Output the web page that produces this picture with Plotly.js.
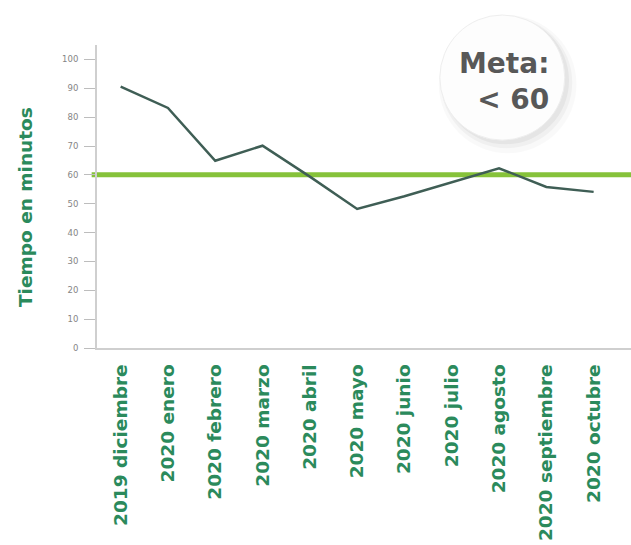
<!DOCTYPE html>
<html>
<head>
<meta charset="utf-8">
<script src="https://cdn.plot.ly/plotly-3.0.1.min.js"></script>
<style>html,body{margin:0;padding:0;background:#fff;}#chart{width:631px;height:545px;}</style>
</head>
<body>
<div id="chart"></div>
<script>
const months = ["2019 diciembre","2020 enero","2020 febrero","2020 marzo","2020 abril","2020 mayo","2020 junio","2020 julio","2020 agosto","2020 septiembre","2020 octubre"];
const minutes = [90.6, 83.2, 64.9, 70.1, 59.4, 48.2, 52.6, 57.4, 62.3, 55.8, 54.1];
const goal = 60;
const yTicks = [0,10,20,30,40,50,60,70,80,90,100];
const yTitle = "Tiempo en minutos";
const goalText = "Meta:<br>&lt; 60";

const green = "#2b8a5c";
const labelFont = {family: "DejaVu Sans", size: 18.5, color: green, weight: "bold"};

const trace = {
  type: "scatter", mode: "lines",
  x: months, y: minutes,
  line: {color: "#3f5e55", width: 2.5},
  hoverinfo: "skip", showlegend: false
};

// circle geometry in paper coords
const cx0 = 0.642, cx1 = 0.876, cy0 = 0.686, cy1 = 1.099;
const shadows = [];
[[0.010,-0.022,0.012,0.025],[0.008,-0.016,0.006,0.035],[0.006,-0.010,0.002,0.045]].forEach(s => {
  shadows.push({type:"circle", xref:"paper", yref:"paper",
    x0: cx0 + s[0] - s[2], x1: cx1 + s[0] + s[2],
    y0: cy0 + s[1] - s[2]*1.76, y1: cy1 + s[1] + s[2]*1.76,
    fillcolor: "rgba(0,0,0," + s[3] + ")", line: {width: 0}, layer: "above"});
});

const layout = {
  width: 631, height: 545,
  margin: {l: 97, r: 0, t: 45, b: 197, pad: 0},
  paper_bgcolor: "#fff", plot_bgcolor: "#fff",
  showlegend: false,
  xaxis: {
    type: "category",
    range: [-0.5, 10.79],
    tickangle: -90,
    tickfont: labelFont,
    ticks: "", showgrid: false, zeroline: false,
    showline: true, linecolor: "#cfcfcf", linewidth: 2,
    ticklabelstandoff: 7
  },
  yaxis: {
    range: [0, 105],
    tickvals: yTicks,
    ticktext: yTicks.map(String),
    ticks: "outside", ticklen: 11, tickcolor: "#bdbdbd", tickwidth: 1,
    tickfont: {family: "DejaVu Sans", size: 8.5, color: "#858585"},
    ticklabelstandoff: 4,
    showgrid: false, zeroline: false,
    showline: true, linecolor: "#cfcfcf", linewidth: 2
  },
  shapes: [
    {type: "line", xref: "paper", yref: "y", x0: -0.01, x1: 1, y0: goal, y1: goal,
     line: {color: "#86c23a", width: 5}, layer: "below"},
    ...shadows,
    {type: "circle", xref: "paper", yref: "paper", x0: cx0, x1: cx1, y0: cy0, y1: cy1,
     fillcolor: "#fdfdfd", line: {color: "#eeeeee", width: 1}, layer: "above"}
  ],
  annotations: [
    {xref: "paper", yref: "paper", x: -0.135, y: 0.465, text: yTitle, textangle: -90,
     showarrow: false, font: labelFont, xanchor: "center", yanchor: "middle"},
    {xref: "paper", yref: "paper", x: 0.763, y: 0.88, text: goalText, showarrow: false,
     align: "right", xanchor: "center", yanchor: "middle",
     font: {family: "DejaVu Sans", size: 28, color: "#585858", weight: "bold"}}
  ]
};

Plotly.newPlot("chart", [trace], layout, {displayModeBar: false, staticPlot: true});
</script>
</body>
</html>
